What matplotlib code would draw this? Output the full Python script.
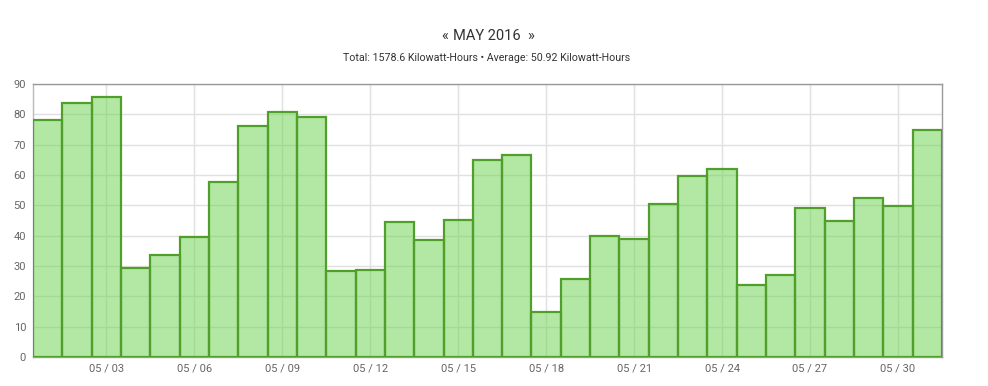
import matplotlib
matplotlib.use("Agg")
import matplotlib.pyplot as plt

days = list(range(1, 32))
values = [78.0, 83.7, 85.7, 29.3, 33.6, 39.6, 57.7, 76.2, 80.8, 79.1,
          28.4, 28.7, 44.5, 38.6, 45.2, 65.0, 66.6, 14.8, 25.7, 39.9,
          38.9, 50.4, 59.7, 62.0, 23.7, 27.0, 49.1, 44.8, 52.4, 49.8, 74.8]
tick_days = [3, 6, 9, 12, 15, 18, 21, 24, 27, 30]
tick_labels = ["05 / %02d" % d for d in tick_days]
y_ticks = list(range(0, 91, 10))
subtitle = "Total: 1578.6 Kilowatt-Hours • Average: 50.92 Kilowatt-Hours"

plt.rcParams['font.family'] = ['Roboto', 'DejaVu Sans']

fig = plt.figure(figsize=(9.88, 3.86), dpi=100)
ax = fig.add_axes([33/988, 29/386, (942-33)/988, (357-84)/386])

ax.bar(days, values, width=1.0, color=(105/255, 210/255, 75/255, 0.5),
       edgecolor="#4f9f2a", linewidth=1.6, zorder=3)

ax.set_xlim(0.5, 31.5)
ax.set_ylim(0, 90)
ax.set_yticks(y_ticks)
ax.set_xticks(tick_days)
ax.set_xticklabels(tick_labels)
ax.grid(True, color="#e0e0e0", linewidth=1, zorder=0)
ax.set_axisbelow(True)
ax.tick_params(axis='both', length=0, labelsize=8, colors="#666666", pad=5)
for s in ax.spines.values():
    s.set_color("#999999")
    s.set_linewidth(1)
ax.spines['left'].set_color("#bbbbbb")

fig.text(445/988, 1 - 36/386, "«", ha='center', va='center', fontsize=10.5, color="#333333")
fig.text(487/988, 1 - 36/386, "MAY 2016", ha='center', va='center', fontsize=10.5, color="#333333")
fig.text(531/988, 1 - 36/386, "»", ha='center', va='center', fontsize=10.5, color="#333333")
fig.text(487/988, 1 - 58/386, subtitle, ha='center', va='center', fontsize=7.7, color="#333333")

fig.savefig("out.png", dpi=100)
